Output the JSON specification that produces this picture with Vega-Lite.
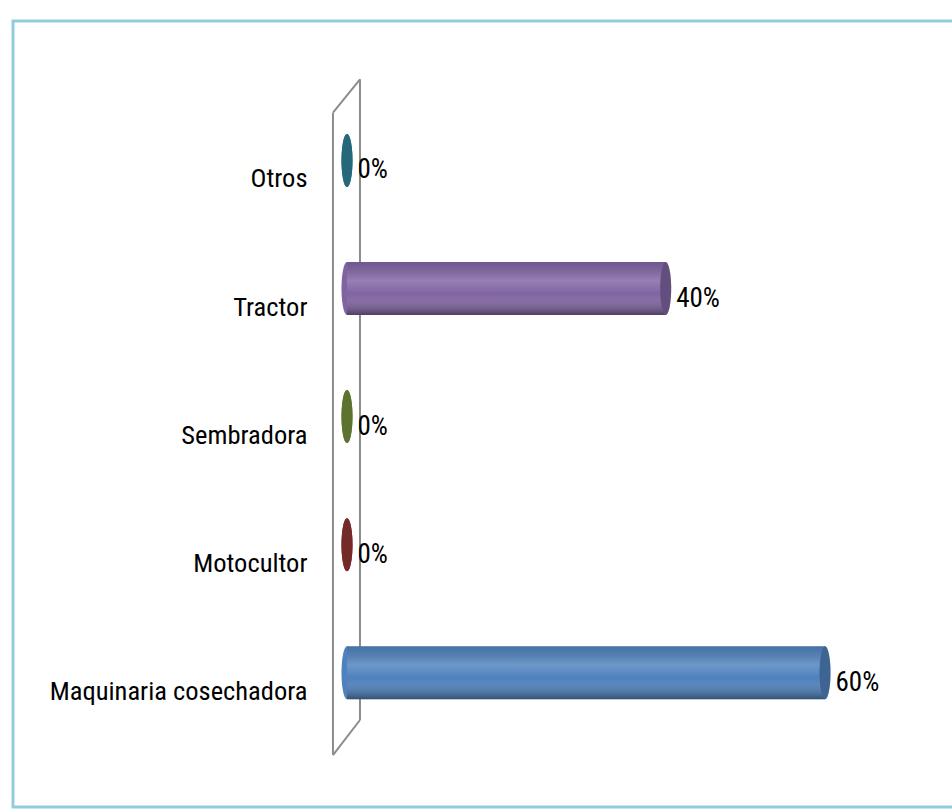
{
  "$schema": "https://vega.github.io/schema/vega-lite/v6.json",
  "autosize": {"type": "none"},
  "padding": {"left": 13, "top": 21, "right": 0, "bottom": 2},
  "width": 960,
  "height": 786,
  "background": "white",
  "config": {
    "view": {"stroke": "#92CDDC", "strokeWidth": 3, "fill": "white"},
    "font": "Liberation Sans Narrow, Roboto Condensed, DejaVu Sans Condensed, Liberation Sans"
  },
  "data": {
    "values": [
      {"cat": "Otros", "value": 0},
      {"cat": "Tractor", "value": 0.4},
      {"cat": "Sembradora", "value": 0},
      {"cat": "Motocultor", "value": 0},
      {"cat": "Maquinaria cosechadora", "value": 0.6}
    ]
  },
  "encoding": {
    "y": {
      "field": "cat",
      "type": "nominal",
      "scale": {
        "domain": ["Otros", "Tractor", "Sembradora", "Motocultor", "Maquinaria cosechadora"],
        "paddingInner": 0.5861,
        "paddingOuter": 0.862,
        "align": 0.5118
      },
      "axis": {
        "title": null,
        "orient": "left",
        "offset": -294,
        "domain": false,
        "ticks": false,
        "tickSize": 0,
        "labelPadding": 0,
        "labelOffset": 19,
        "labelFontSize": 26.5,
        "labelLimit": 0,
        "labelColor": "#000000",
        "labelFontWeight": "normal",
        "labelFont": "Liberation Sans Narrow, Roboto Condensed, DejaVu Sans Condensed, Liberation Sans"
      }
    }
  },
  "layer": [
    {
      "data": {"values": [{}]},
      "mark": {"type": "rule", "color": "#8c8c8c", "strokeWidth": 2},
      "encoding": {
        "x": {"datum": -0.0176, "type": "quantitative", "scale": {"domain": [-0.4192, 0.7857], "zero": false, "nice": false}, "axis": null},
        "y": {"datum": "Otros", "bandPosition": -0.402},
        "y2": {"datum": "Maquinaria cosechadora", "bandPosition": 2.053}
      }
    },
    {
      "data": {"values": [{}]},
      "mark": {"type": "rule", "color": "#8c8c8c", "strokeWidth": 2},
      "encoding": {
        "x": {"datum": 0.0163, "type": "quantitative"},
        "y": {"datum": "Otros", "bandPosition": -1.032},
        "y2": {"datum": "Maquinaria cosechadora", "bandPosition": 1.392}
      }
    },
    {
      "data": {"values": [{}]},
      "mark": {"type": "rule", "color": "#8c8c8c", "strokeWidth": 2},
      "encoding": {
        "x": {"datum": -0.0176, "type": "quantitative"},
        "x2": {"datum": 0.0163},
        "y": {"datum": "Otros", "bandPosition": -0.402},
        "y2": {"datum": "Otros", "bandPosition": -1.032}
      }
    },
    {
      "data": {"values": [{}]},
      "mark": {"type": "rule", "color": "#8c8c8c", "strokeWidth": 2},
      "encoding": {
        "x": {"datum": -0.0176, "type": "quantitative"},
        "x2": {"datum": 0.0163},
        "y": {"datum": "Maquinaria cosechadora", "bandPosition": 2.053},
        "y2": {"datum": "Maquinaria cosechadora", "bandPosition": 1.392}
      }
    },
    {
      "mark": {"type": "point", "filled": true, "opacity": 1, "size": 2809, "shape": "M0,-1 A0.2075,1 0 1,1 0,1 A0.2075,1 0 1,1 0,-1 Z"},
      "encoding": {
        "x": {"datum": 0, "type": "quantitative"},
        "color": {
          "field": "cat",
          "type": "nominal",
          "legend": null,
          "scale": {
            "domain": ["Otros", "Tractor", "Sembradora", "Motocultor", "Maquinaria cosechadora"],
            "range": ["#31859C", "#8064A2", "#77933C", "#953735", "#4F81BD"]
          }
        }
      }
    },
    {
      "mark": {"type": "bar"},
      "encoding": {
        "x": {"field": "value", "type": "quantitative"},
        "color": {"field": "cat", "type": "nominal", "legend": null}
      }
    },
    {
      "mark": {
        "type": "bar",
        "fill": {
          "gradient": "linear",
          "x1": 0, "y1": 0, "x2": 0, "y2": 1,
          "stops": [
            {"offset": 0, "color": "rgba(0,0,0,0.12)"},
            {"offset": 0.35, "color": "rgba(255,255,255,0.18)"},
            {"offset": 0.6, "color": "rgba(255,255,255,0.0)"},
            {"offset": 1, "color": "rgba(0,0,0,0.38)"}
          ]
        }
      },
      "encoding": {
        "x": {"field": "value", "type": "quantitative"}
      }
    },
    {
      "mark": {"type": "point", "filled": true, "opacity": 1, "size": 2809, "shape": "M0,-1 A0.2075,1 0 1,1 0,1 A0.2075,1 0 1,1 0,-1 Z"},
      "encoding": {
        "x": {"field": "value", "type": "quantitative"},
        "color": {"field": "cat", "type": "nominal", "legend": null}
      }
    },
    {
      "mark": {"type": "point", "filled": true, "color": "#000000", "opacity": 0.22, "size": 2809, "shape": "M0,-1 A0.2075,1 0 1,1 0,1 A0.2075,1 0 1,1 0,-1 Z"},
      "encoding": {
        "x": {"field": "value", "type": "quantitative"}
      }
    },
    {
      "mark": {"type": "text", "align": "left", "baseline": "middle", "dx": 10.5, "dy": 10, "fontSize": 27, "color": "#000000"},
      "encoding": {
        "x": {"field": "value", "type": "quantitative"},
        "text": {"field": "value", "type": "quantitative", "format": ".0%"}
      }
    }
  ]
}
